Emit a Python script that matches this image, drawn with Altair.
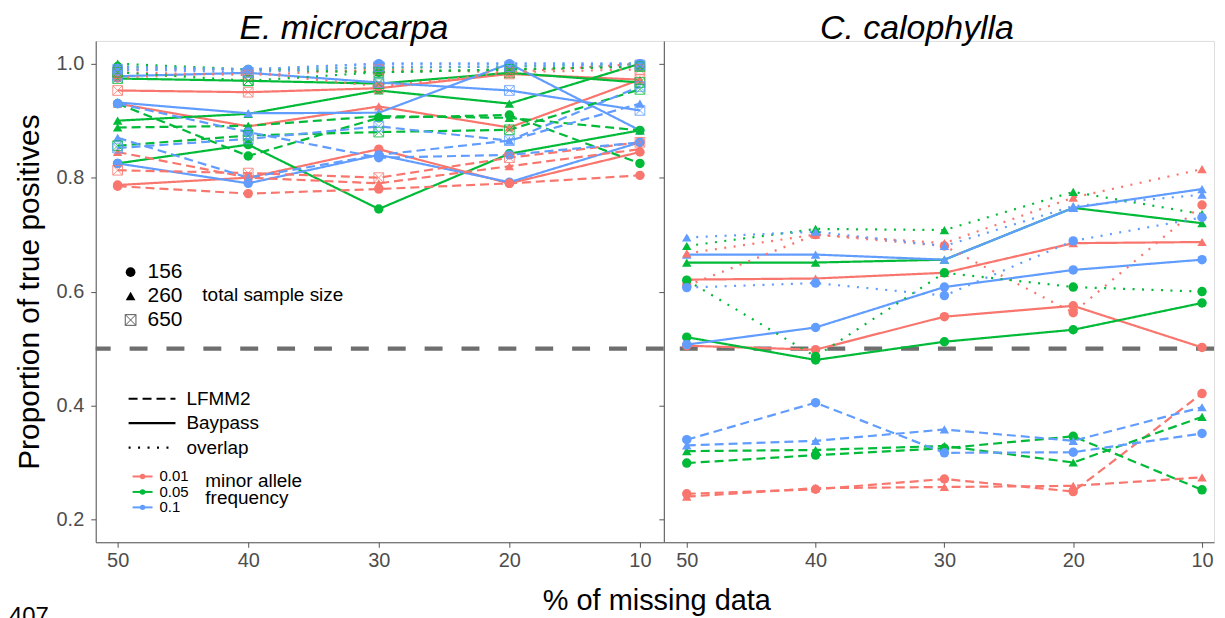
import altair as alt
import pandas as pd

# ---------------- data ----------------
MISSING = [50, 40, 30, 20, 10]
MAF_LEVELS = ["0.01", "0.05", "0.1"]
SIZE_LEVELS = ["156", "260", "650"]
METHODS = ["LFMM2", "Baypass", "overlap"]
COLORS = ["#F8766D", "#00BA38", "#619CFF"]
PANELS = ["E. microcarpa", "C. calophylla"]

# E. microcarpa
EM_BAYPASS = {
    ("0.01", "156"): [0.787, 0.800, 0.850, 0.790, 0.845],
    ("0.01", "260"): [0.930, 0.890, 0.925, 0.888, 0.972],
    ("0.01", "650"): [0.953, 0.950, 0.957, 0.982, 0.972],
    ("0.05", "156"): [0.825, 0.858, 0.745, 0.842, 0.883],
    ("0.05", "260"): [0.900, 0.912, 0.953, 0.930, 1.000],
    ("0.05", "650"): [0.974, 0.970, 0.965, 0.984, 0.967],
    ("0.1", "156"): [0.825, 0.790, 0.840, 0.792, 0.862],
    ("0.1", "260"): [0.932, 0.913, 0.914, 1.000, 0.883],
    ("0.1", "650"): [0.978, 0.984, 0.967, 0.953, 0.918],
}
EM_LFMM2 = {
    ("0.01", "156"): [0.785, 0.772, 0.780, 0.790, 0.804],
    ("0.01", "260"): [0.845, 0.800, 0.790, 0.820, 0.850],
    ("0.01", "650"): [0.813, 0.808, 0.800, 0.835, 0.862],
    ("0.05", "156"): [0.930, 0.838, 0.905, 0.910, 0.825],
    ("0.05", "260"): [0.888, 0.891, 0.908, 0.905, 0.883],
    ("0.05", "650"): [0.856, 0.874, 0.880, 0.884, 0.955],
    ("0.1", "156"): [0.930, 0.880, 0.835, 0.840, 0.862],
    ("0.1", "260"): [0.870, 0.800, 0.840, 0.865, 0.930],
    ("0.1", "650"): [0.852, 0.868, 0.890, 0.865, 0.960],
}
EM_OVERLAP = {
    ("0.01", "156"): [0.975, 0.985, 0.960, 0.985, 1.000],
    ("0.01", "260"): [0.990, 0.990, 0.985, 0.990, 0.995],
    ("0.01", "650"): [0.985, 0.980, 0.990, 0.985, 0.990],
    ("0.05", "156"): [0.995, 0.990, 0.985, 0.990, 0.995],
    ("0.05", "260"): [1.000, 0.990, 0.993, 0.995, 1.000],
    ("0.05", "650"): [0.985, 0.970, 0.985, 0.990, 0.995],
    ("0.1", "156"): [0.990, 0.990, 1.000, 1.000, 1.000],
    ("0.1", "260"): [0.995, 0.990, 1.000, 1.000, 1.000],
    ("0.1", "650"): [0.990, 0.985, 0.995, 0.995, 0.998],
}

# C. calophylla
CC_BAYPASS = {
    ("0.01", "156"): [0.505, 0.498, 0.556, 0.575, 0.502],
    ("0.01", "260"): [0.621, 0.623, 0.633, 0.685, 0.687],
    ("0.05", "156"): [0.520, 0.480, 0.512, 0.533, 0.580],
    ("0.05", "260"): [0.651, 0.651, 0.656, 0.747, 0.720],
    ("0.1", "156"): [0.507, 0.537, 0.608, 0.638, 0.656],
    ("0.1", "260"): [0.665, 0.665, 0.656, 0.747, 0.780],
}
CC_LFMM2 = {
    ("0.01", "156"): [0.245, 0.253, 0.271, 0.249, 0.421],
    ("0.01", "260"): [0.240, 0.255, 0.257, 0.259, 0.274],
    ("0.05", "156"): [0.299, 0.313, 0.325, 0.346, 0.252],
    ("0.05", "260"): [0.320, 0.322, 0.329, 0.300, 0.380],
    ("0.1", "156"): [0.340, 0.405, 0.317, 0.318, 0.351],
    ("0.1", "260"): [0.330, 0.338, 0.358, 0.338, 0.397],
}
CC_OVERLAP = {
    ("0.01", "156"): [0.610, 0.700, 0.680, 0.563, 0.752],
    ("0.01", "260"): [0.667, 0.700, 0.685, 0.765, 0.815],
    ("0.05", "156"): [0.620, 0.486, 0.633, 0.608, 0.600],
    ("0.05", "260"): [0.680, 0.710, 0.708, 0.775, 0.736],
    ("0.1", "156"): [0.607, 0.615, 0.593, 0.689, 0.730],
    ("0.1", "260"): [0.695, 0.705, 0.680, 0.750, 0.770],
}

Y_TICKS = [0.2, 0.4, 0.6, 0.8, 1.0]
THRESHOLD = [0.5]
LEGEND_SIZE_TITLE = "total sample size"
LEGEND_MAF_TITLE = ["minor allele", "frequency"]
X_TITLE = "% of missing data"
Y_TITLE = "Proportion of true positives"
PAGE_NOTE = "407"

rows = []
for panel, method, table in [
    (PANELS[0], "Baypass", EM_BAYPASS), (PANELS[0], "LFMM2", EM_LFMM2), (PANELS[0], "overlap", EM_OVERLAP),
    (PANELS[1], "Baypass", CC_BAYPASS), (PANELS[1], "LFMM2", CC_LFMM2), (PANELS[1], "overlap", CC_OVERLAP),
]:
    for (maf, size), vals in table.items():
        for m, v in zip(MISSING, vals):
            rows.append(dict(panel=panel, method=method, maf=maf, size=size,
                             missing=m, value=v, series=f"{method}-{maf}-{size}"))
df = pd.DataFrame(rows)

SQX = "M-1,-1L1,-1L1,1L-1,1Z M-1,-1L1,1 M-1,1L1,-1"
FONT = "Liberation Sans"
AX_COL = "#555555"
LAB_COL = "#4d4d4d"
DASHES = [[9, 5], [1, 0], [2, 7.5]]


def panel_chart(name, width, first, xdomain):
    d = df[df.panel == name]
    x = alt.X("missing:Q",
              scale=alt.Scale(domain=xdomain, nice=False, zero=False),
              axis=alt.Axis(title=None, values=MISSING, format="d", labelAngle=0, labelFontSize=20,
                            labelColor=LAB_COL, labelPadding=3, tickSize=5, domainColor=AX_COL,
                            tickColor=AX_COL, grid=False))
    if first:
        yax = alt.Axis(values=Y_TICKS, format=".1f", title=Y_TITLE, titleFontSize=30,
                       titleFontWeight="normal", titleColor="black", titlePadding=12,
                       labelFontSize=20, labelColor=LAB_COL, labelPadding=7, tickSize=5,
                       domainColor=AX_COL, tickColor=AX_COL, grid=False)
    else:
        yax = alt.Axis(values=Y_TICKS, labels=False, title=None, tickSize=5,
                       domainColor=AX_COL, tickColor=AX_COL, grid=False)
    y = alt.Y("value:Q", scale=alt.Scale(domain=[0.16, 1.04], nice=False, zero=False), axis=yax)
    color = alt.Color("maf:N", scale=alt.Scale(domain=MAF_LEVELS, range=COLORS), legend=None)
    dash = alt.StrokeDash("method:N", scale=alt.Scale(domain=METHODS, range=DASHES), legend=None)
    shape = alt.Shape("size:N", scale=alt.Scale(domain=SIZE_LEVELS, range=["circle", "triangle-up", SQX]),
                      legend=None)

    base = alt.Chart(d)
    hline = alt.Chart(pd.DataFrame({"t": THRESHOLD})).mark_rule(
        color="#6e6e6e", strokeWidth=4.3, strokeDash=[18, 19]).encode(y=alt.Y("t:Q"))
    lines = base.mark_line(strokeWidth=2.2).encode(x=x, y=y, color=color, strokeDash=dash,
                                                   detail="series:N")
    pts_f = base.transform_filter("datum.size != '650'").mark_point(
        filled=True, size=90, opacity=1).encode(x=x, y=y, color=color, shape=shape)
    pts_o = base.transform_filter("datum.size == '650'").mark_point(
        filled=False, size=95, strokeWidth=1, opacity=0.8).encode(x=x, y=y, color=color, shape=shape)

    layers = [hline, lines, pts_f, pts_o]

    if first:
        one = alt.Chart(pd.DataFrame({"k": [0]}))
        # sample size legend
        for i, (lab, shp) in enumerate(zip(SIZE_LEVELS, ["circle", "triangle-up", SQX])):
            yy = 232 + 24 * i
            layers.append(one.mark_point(filled=(i < 2), size=95 if i < 2 else 115, opacity=1,
                                         color="black" if i < 2 else "#555", strokeWidth=1,
                                         shape=shp).encode(x=alt.value(35), y=alt.value(yy)))
            layers.append(one.mark_text(text=lab, fontSize=21, align="left", baseline="middle",
                                        font=FONT, color="black").encode(x=alt.value(52), y=alt.value(yy)))
        layers.append(one.mark_text(text=LEGEND_SIZE_TITLE, fontSize=19, align="left", baseline="middle",
                                    font=FONT, color="black").encode(x=alt.value(107), y=alt.value(255)))
        # method legend
        for i, (lab, ds) in enumerate(zip(METHODS, DASHES)):
            yy = 359 + 24.5 * i
            layers.append(one.mark_rule(color="black", strokeWidth=2.2, strokeDash=ds).encode(
                x=alt.value(33), x2=alt.value(80), y=alt.value(yy)))
            layers.append(one.mark_text(text=lab, fontSize=19, align="left", baseline="middle",
                                        font=FONT, color="black").encode(x=alt.value(91), y=alt.value(yy)))
        # maf legend
        for i, (lab, col) in enumerate(zip(MAF_LEVELS, COLORS)):
            yy = 437 + 15.5 * i
            layers.append(one.mark_rule(color=col, strokeWidth=2).encode(
                x=alt.value(37), x2=alt.value(57), y=alt.value(yy)))
            layers.append(one.mark_point(filled=True, size=30, opacity=1, color=col, shape="circle").encode(
                x=alt.value(47), y=alt.value(yy)))
            layers.append(one.mark_text(text=lab, fontSize=15, align="left", baseline="middle",
                                        font=FONT, color="black").encode(x=alt.value(64), y=alt.value(yy)))
        for i, lab in enumerate(LEGEND_MAF_TITLE):
            layers.append(one.mark_text(text=lab, fontSize=19, align="left", baseline="middle",
                                        font=FONT, color="black").encode(x=alt.value(110), y=alt.value(442 + 17 * i)))
        # x title and page note
        layers.append(one.mark_text(text=X_TITLE, fontSize=29, align="center", baseline="middle",
                                    font=FONT, color="black").encode(x=alt.value(563), y=alt.value(562)))
        layers.append(one.mark_text(text=PAGE_NOTE, fontSize=24, align="left", baseline="top",
                                    font=FONT, color="black").encode(x=alt.value(-87), y=alt.value(566)))

    return alt.layer(*layers).properties(
        width=width, height=503,
        title=alt.TitleParams(name, fontSize=34, fontStyle="italic", fontWeight="normal",
                              anchor="middle", offset=-5, dx=-36 if first else -22,
                              color="black", font=FONT))


left = panel_chart(PANELS[0], 570, True, [51.68, 8.17])
right = panel_chart(PANELS[1], 552, False, [51.78, 9.07])

chart = alt.hconcat(left, right, spacing=0, bounds="flush").properties(
    padding={"left": 0, "top": 2, "right": 0, "bottom": 0}
).configure_view(stroke=None).configure(font=FONT)

chart.save("out.html", embed_options={"renderer": "svg", "actions": False})
